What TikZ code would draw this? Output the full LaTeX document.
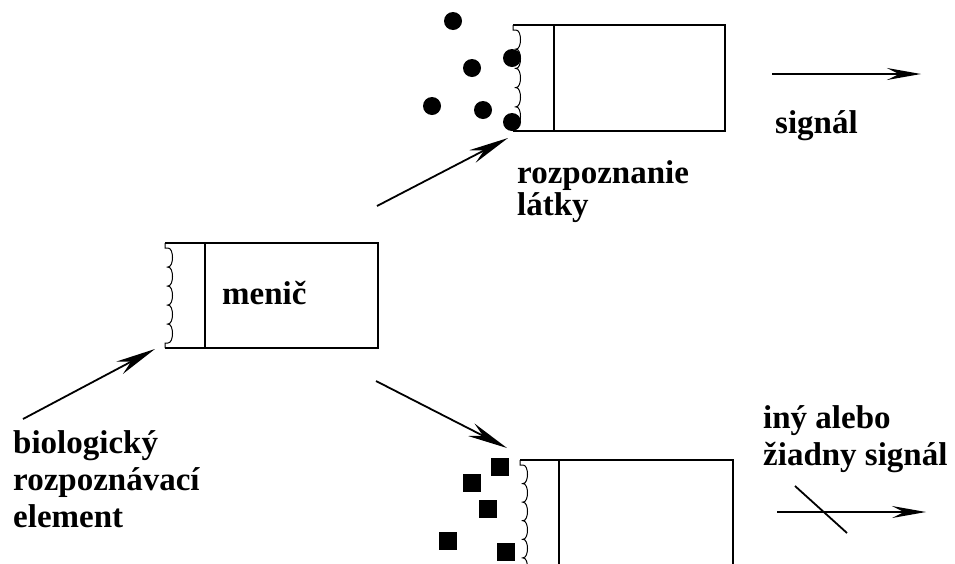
\documentclass[tikz,border=0pt]{standalone}
\usepackage{fontspec}
\setmainfont{Liberation Serif}
\usetikzlibrary{arrows.meta}

\tikzset{
  lbl/.style={font=\bfseries\fontsize{33}{37}\selectfont, inner sep=0pt, anchor=base west, align=left},
  boxline/.style={line width=1.3pt},
  feed/.style={line width=1.8pt, -{Stealth[length=40pt,width=14pt,inset=13pt]}},
  sigline/.style={line width=1.5pt, -{Stealth[length=34pt,width=12pt,inset=12pt]}},
  dot/.style={fill=black},
}

% box with a wavy receptor side: name, x left, y top, x divider, x right, y bottom, bumps
\newcommand{\sensorbox}[7]{
  \coordinate (#1-nw) at (#2,#3);
  \coordinate (#1-sw) at (#2,#6);
  \coordinate (#1-ne) at (#5,#3);
  \coordinate (#1-se) at (#5,#6);
  \draw[boxline] (#1-sw) -- (#1-se) -- (#1-ne) -- (#1-nw);
  \draw[boxline] (#4,#3) -- (#4,#6);
  \pgfmathsetmacro\bumph{(#6-#3-10)/#7}
  \draw[line width=1pt] (#1-nw) -- ++(0,5) -- ++(3,0)
    \foreach \k in {1,...,#7} { .. controls +(6,0) and +(6,0) .. ++(0,\bumph) -- ++(-1.5,0) -- ++(1.5,0) }
    -- ++(-3,0) -- (#1-sw);
}

\begin{document}
\begin{tikzpicture}[x=1pt,y=-1pt]
  \useasboundingbox (0,0) rectangle (955,563);
  \clip (0,0) rectangle (955,563);

  % the three boxes
  \sensorbox{mid}{165}{243}{205}{378}{348}{5}
  \sensorbox{top}{513}{25}{554}{725}{131}{5}
  \sensorbox{low}{520}{460}{559}{733}{600}{7}

  % matching substance
  \foreach \px/\py in {453/21, 472/68, 432/106, 483/110, 512/58, 512/122}
    \fill[dot] (\px,\py) circle (9);

  % other substance
  \foreach \px/\py in {500/467, 472/483, 488/509, 448/541, 506/552}
    \fill[dot] (\px-9,\py-9) rectangle (\px+9,\py+9);

  % labels (anchored at the baseline of the last line)
  \node[lbl] (menic) at (222,304) {menič};
  \node[lbl] (signal) at (775,133) {signál};
  \node[lbl] (rozpoz) at (517,215) {rozpoznanie\\[-5pt]látky};
  \node[lbl] (bioel) at (13,527) {biologický\\rozpoznávací\\element};
  \node[lbl] (iny) at (763,465) {iný alebo\\žiadny signál};

  % arrows
  \coordinate (bio-a) at (23,419);
  \coordinate (bio-b) at (155,349);
  \coordinate (up-a) at (377,206);
  \coordinate (up-b) at (508,138);
  \coordinate (dn-a) at (376,381);
  \coordinate (dn-b) at (507,448);
  \coordinate (sig-a) at (772,74);
  \coordinate (sig-b) at (921,74);
  \coordinate (nos-a) at (777,512);
  \coordinate (nos-b) at (926,512);
  \coordinate (cut-a) at (795,486);
  \coordinate (cut-b) at (847,533);

  \draw[feed] (bio-a) -- (bio-b);
  \draw[feed] (up-a) -- (up-b);
  \draw[feed] (dn-a) -- (dn-b);
  \draw[sigline] (sig-a) -- (sig-b);
  \draw[sigline] (nos-a) -- (nos-b);
  \draw[line width=1.8pt] (cut-a) -- (cut-b);
\end{tikzpicture}
\end{document}
